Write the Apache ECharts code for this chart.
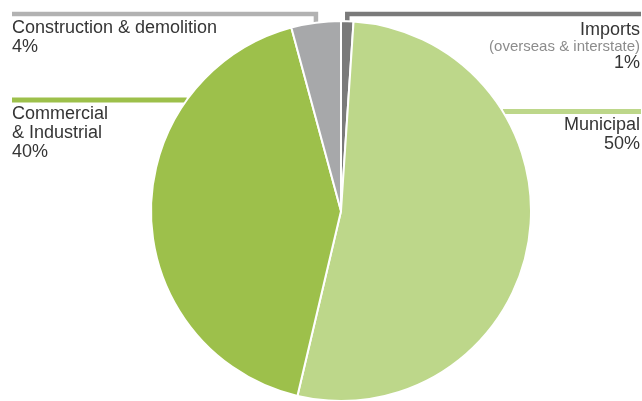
<!DOCTYPE html>
<html>
<head>
<meta charset="utf-8">
<script src="https://cdn.jsdelivr.net/npm/echarts@6/dist/echarts.min.js"></script>
<style>
  html, body { margin: 0; padding: 0; background: #fff; }
  #chart { width: 642px; height: 401px; }
</style>
</head>
<body>
<div id="chart"></div>
<script>
// Waste sources, clockwise from 12 o'clock
const categories = ['Imports', 'Municipal', 'Commercial\n& Industrial', 'Construction & demolition'];
const subtitles = ['(overseas & interstate)', '', '', ''];
const shares = [1, 50, 40, 4];
const sliceColors = ['#7a7a7a', '#bdd78a', '#9dc04b', '#a7a8aa'];
const lineColors = ['#7a7a7a', '#bdd78a', '#9dc04b', '#b2b2b2'];

// Pie geometry (px)
const CX = 341, CY = 211, R = 190;

const total = shares.reduce((a, b) => a + b, 0);
// mid-angle (clockwise from top, radians) of each slice
const midAngles = [];
(function () {
  let acc = 0;
  shares.forEach(v => {
    const a = v / total * Math.PI * 2;
    midAngles.push(acc + a / 2);
    acc += a;
  });
})();
function edgeAt(theta) {
  return [CX + R * Math.sin(theta), CY - R * Math.cos(theta)];
}
function edgeXAtY(y, side) {
  const dy = y - CY;
  const dx = Math.sqrt(Math.max(R * R - dy * dy, 0));
  return side < 0 ? CX - dx : CX + dx;
}

// Where each label and its leader sit
const labelPlacement = [
  { x: 640, y: 21, align: 'right', lineY: 14, kind: 'elbow', end: 641 },
  { x: 640, y: 116, align: 'right', lineY: 111.5, kind: 'flat', side: 1, end: 641 },
  { x: 12, y: 105, align: 'left', lineY: 100, kind: 'flat', side: -1, end: 12 },
  { x: 12, y: 19, align: 'left', lineY: 14, kind: 'elbow', end: 12 }
];

const FONT = 'Liberation Sans, Arial, sans-serif';
const chart = echarts.init(document.getElementById('chart'), null, { renderer: 'canvas' });

const data = categories.map((name, i) => ({
  name: name,
  value: shares[i],
  itemStyle: { color: sliceColors[i] },
  labelLine: { lineStyle: { color: lineColors[i], width: i === 1 || i === 2 ? 4.8 : 4.5 } }
}));

chart.setOption({
  animation: false,
  backgroundColor: '#ffffff',
  series: [{
    type: 'pie',
    center: [CX, CY],
    radius: [0, R],
    startAngle: 90,
    clockwise: true,
    avoidLabelOverlap: false,
    data: data,
    itemStyle: { borderColor: '#ffffff', borderWidth: 2 },
    label: {
      show: true,
      position: 'outer',
      fontFamily: FONT,
      formatter: function (p) {
        const i = p.dataIndex;
        let s = '{n|' + p.name.split('\n').join('}\n{n|') + '}';
        if (subtitles[i]) s += '\n{s|' + subtitles[i] + '}';
        s += '\n{n|' + p.value + '%}';
        return s;
      },
      rich: {
        n: { fontSize: 18, lineHeight: 19, color: '#353535', fontFamily: FONT },
        s: { fontSize: 15, lineHeight: 14, color: '#8c8c8c', fontFamily: FONT }
      }
    },
    labelLine: { show: true, smooth: false },
    labelLayout: function (params) {
      const i = params.dataIndex;
      const pl = labelPlacement[i];
      let pts;
      if (pl.kind === 'elbow') {
        const e = edgeAt(midAngles[i]);
        pts = [[e[0], e[1] + 2], [e[0], pl.lineY], [pl.end, pl.lineY]];
      } else {
        const ex = edgeXAtY(pl.lineY, pl.side);
        pts = [[ex, pl.lineY], [(ex + pl.end) / 2, pl.lineY], [pl.end, pl.lineY]];
      }
      return {
        x: pl.x,
        y: pl.y,
        align: pl.align,
        verticalAlign: 'top',
        labelLinePoints: pts
      };
    }
  }]
});
</script>
</body>
</html>
